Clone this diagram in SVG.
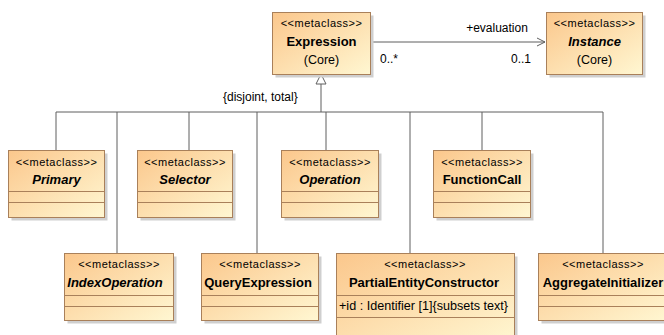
<svg xmlns="http://www.w3.org/2000/svg" width="664" height="335" viewBox="0 0 664 335">
<defs>
<linearGradient id="g" x1="0" y1="0" x2="1" y2="1">
<stop offset="0" stop-color="#FBC78C"/>
<stop offset="1" stop-color="#FFF7D2"/>
</linearGradient>
</defs>
<style>
.sh{fill:#cfcfcf}
.bx{fill:url(#g);stroke:#A9805A;stroke-width:1}
.sep{stroke:#A9805A;stroke-width:1}
text{font-family:"Liberation Sans",Arial,sans-serif;fill:#000}
.st{font-size:11px;letter-spacing:0.5px;text-anchor:middle}
.nm{font-size:13px;font-weight:bold;text-anchor:middle}
.it{font-style:italic}
.rg{font-size:12.5px;text-anchor:middle}
.lb{font-size:12px}
.ln{stroke:#5f5f5f;stroke-width:1;fill:none}
</style>
<rect width="664" height="335" fill="#fff"/>

<g id="connectors">
<polyline class="ln" points="370,42 545,42"/>
<polyline class="ln" points="537,38 545,42 537,46"/>
<polyline class="ln" points="321,84 321,112"/>
<polygon points="321,74 316,84 326,84" fill="#fff" stroke="#5f5f5f" stroke-width="1"/>
<polyline class="ln" points="56,112 603,112"/>
<polyline class="ln" points="56,112 56,150"/>
<polyline class="ln" points="117,112 117,253"/>
<polyline class="ln" points="189,112 189,150"/>
<polyline class="ln" points="257,112 257,253"/>
<polyline class="ln" points="326,112 326,150"/>
<polyline class="ln" points="410,112 410,253"/>
<polyline class="ln" points="482,112 482,150"/>
<polyline class="ln" points="603,112 603,253"/>
<text class="lb" x="497" y="32" text-anchor="middle">+evaluation</text>
<text class="lb" x="380" y="63">0..*</text>
<text class="lb" x="531" y="63" text-anchor="end">0..1</text>
<text class="lb" x="223" y="101">{disjoint, total}</text>
</g>

<g id="Expression">
<rect class="sh" x="275.5" y="15.5" width="98" height="62"/>
<rect class="bx" x="272.5" y="12.5" width="98" height="62"/>
<text class="st" x="321.5" y="27">&lt;&lt;metaclass&gt;&gt;</text>
<text class="nm" x="321.5" y="46">Expression</text>
<text class="rg" x="321.5" y="64">(Core)</text>
</g>

<g id="Instance">
<rect class="sh" x="549.5" y="15.5" width="96" height="62"/>
<rect class="bx" x="546.5" y="12.5" width="96" height="62"/>
<text class="st" x="594.5" y="27">&lt;&lt;metaclass&gt;&gt;</text>
<text class="nm it" x="594.5" y="46">Instance</text>
<text class="rg" x="594.5" y="64">(Core)</text>
</g>

<g id="Primary">
<rect class="sh" x="11.5" y="153.5" width="96" height="67"/>
<rect class="bx" x="8.5" y="150.5" width="96" height="67"/>
<line class="sep" x1="8.5" y1="191.5" x2="104.5" y2="191.5"/>
<line class="sep" x1="8.5" y1="202.5" x2="104.5" y2="202.5"/>
<text class="st" x="56.5" y="166">&lt;&lt;metaclass&gt;&gt;</text>
<text class="nm it" x="56.5" y="184">Primary</text>
</g>

<g id="Selector">
<rect class="sh" x="140.5" y="153.5" width="95" height="67"/>
<rect class="bx" x="137.5" y="150.5" width="95" height="67"/>
<line class="sep" x1="137.5" y1="191.5" x2="232.5" y2="191.5"/>
<line class="sep" x1="137.5" y1="202.5" x2="232.5" y2="202.5"/>
<text class="st" x="185" y="166">&lt;&lt;metaclass&gt;&gt;</text>
<text class="nm it" x="185" y="184">Selector</text>
</g>

<g id="Operation">
<rect class="sh" x="284.5" y="153.5" width="97" height="67"/>
<rect class="bx" x="281.5" y="150.5" width="97" height="67"/>
<line class="sep" x1="281.5" y1="191.5" x2="378.5" y2="191.5"/>
<line class="sep" x1="281.5" y1="202.5" x2="378.5" y2="202.5"/>
<text class="st" x="330" y="166">&lt;&lt;metaclass&gt;&gt;</text>
<text class="nm it" x="330" y="184">Operation</text>
</g>

<g id="FunctionCall">
<rect class="sh" x="436.5" y="153.5" width="97" height="67"/>
<rect class="bx" x="433.5" y="150.5" width="97" height="67"/>
<line class="sep" x1="433.5" y1="191.5" x2="530.5" y2="191.5"/>
<line class="sep" x1="433.5" y1="202.5" x2="530.5" y2="202.5"/>
<text class="st" x="482" y="166">&lt;&lt;metaclass&gt;&gt;</text>
<text class="nm" x="482" y="184">FunctionCall</text>
</g>

<g id="IndexOperation">
<rect class="sh" x="67.5" y="256.5" width="109" height="67"/>
<rect class="bx" x="64.5" y="253.5" width="109" height="67"/>
<line class="sep" x1="64.5" y1="295.5" x2="173.5" y2="295.5"/>
<line class="sep" x1="64.5" y1="306.5" x2="173.5" y2="306.5"/>
<text class="st" x="119" y="268">&lt;&lt;metaclass&gt;&gt;</text>
<text class="nm it" x="115" y="287">IndexOperation</text>
</g>

<g id="QueryExpression">
<rect class="sh" x="204.5" y="256.5" width="117" height="67"/>
<rect class="bx" x="201.5" y="253.5" width="117" height="67"/>
<line class="sep" x1="201.5" y1="295.5" x2="318.5" y2="295.5"/>
<line class="sep" x1="201.5" y1="306.5" x2="318.5" y2="306.5"/>
<text class="st" x="260" y="268">&lt;&lt;metaclass&gt;&gt;</text>
<text class="nm" x="258" y="287">QueryExpression</text>
</g>

<g id="PartialEntityConstructor">
<rect class="sh" x="339.5" y="256.5" width="178" height="90"/>
<rect class="bx" x="336.5" y="253.5" width="178" height="90"/>
<line class="sep" x1="336.5" y1="295.5" x2="514.5" y2="295.5"/>
<line class="sep" x1="336.5" y1="317.5" x2="514.5" y2="317.5"/>
<text class="st" x="425" y="268">&lt;&lt;metaclass&gt;&gt;</text>
<text class="nm" x="424" y="287">PartialEntityConstructor</text>
<text class="lb" x="339" y="310" style="font-size:12.6px">+id : Identifier [1]{subsets text}</text>
</g>

<g id="AggregateInitializer">
<rect class="sh" x="541.5" y="256.5" width="130" height="67"/>
<rect class="bx" x="538.5" y="253.5" width="130" height="67"/>
<line class="sep" x1="538.5" y1="295.5" x2="668.5" y2="295.5"/>
<line class="sep" x1="538.5" y1="306.5" x2="668.5" y2="306.5"/>
<text class="st" x="603" y="268">&lt;&lt;metaclass&gt;&gt;</text>
<text class="nm" x="603" y="287">AggregateInitializer</text>
</g>
</svg>
